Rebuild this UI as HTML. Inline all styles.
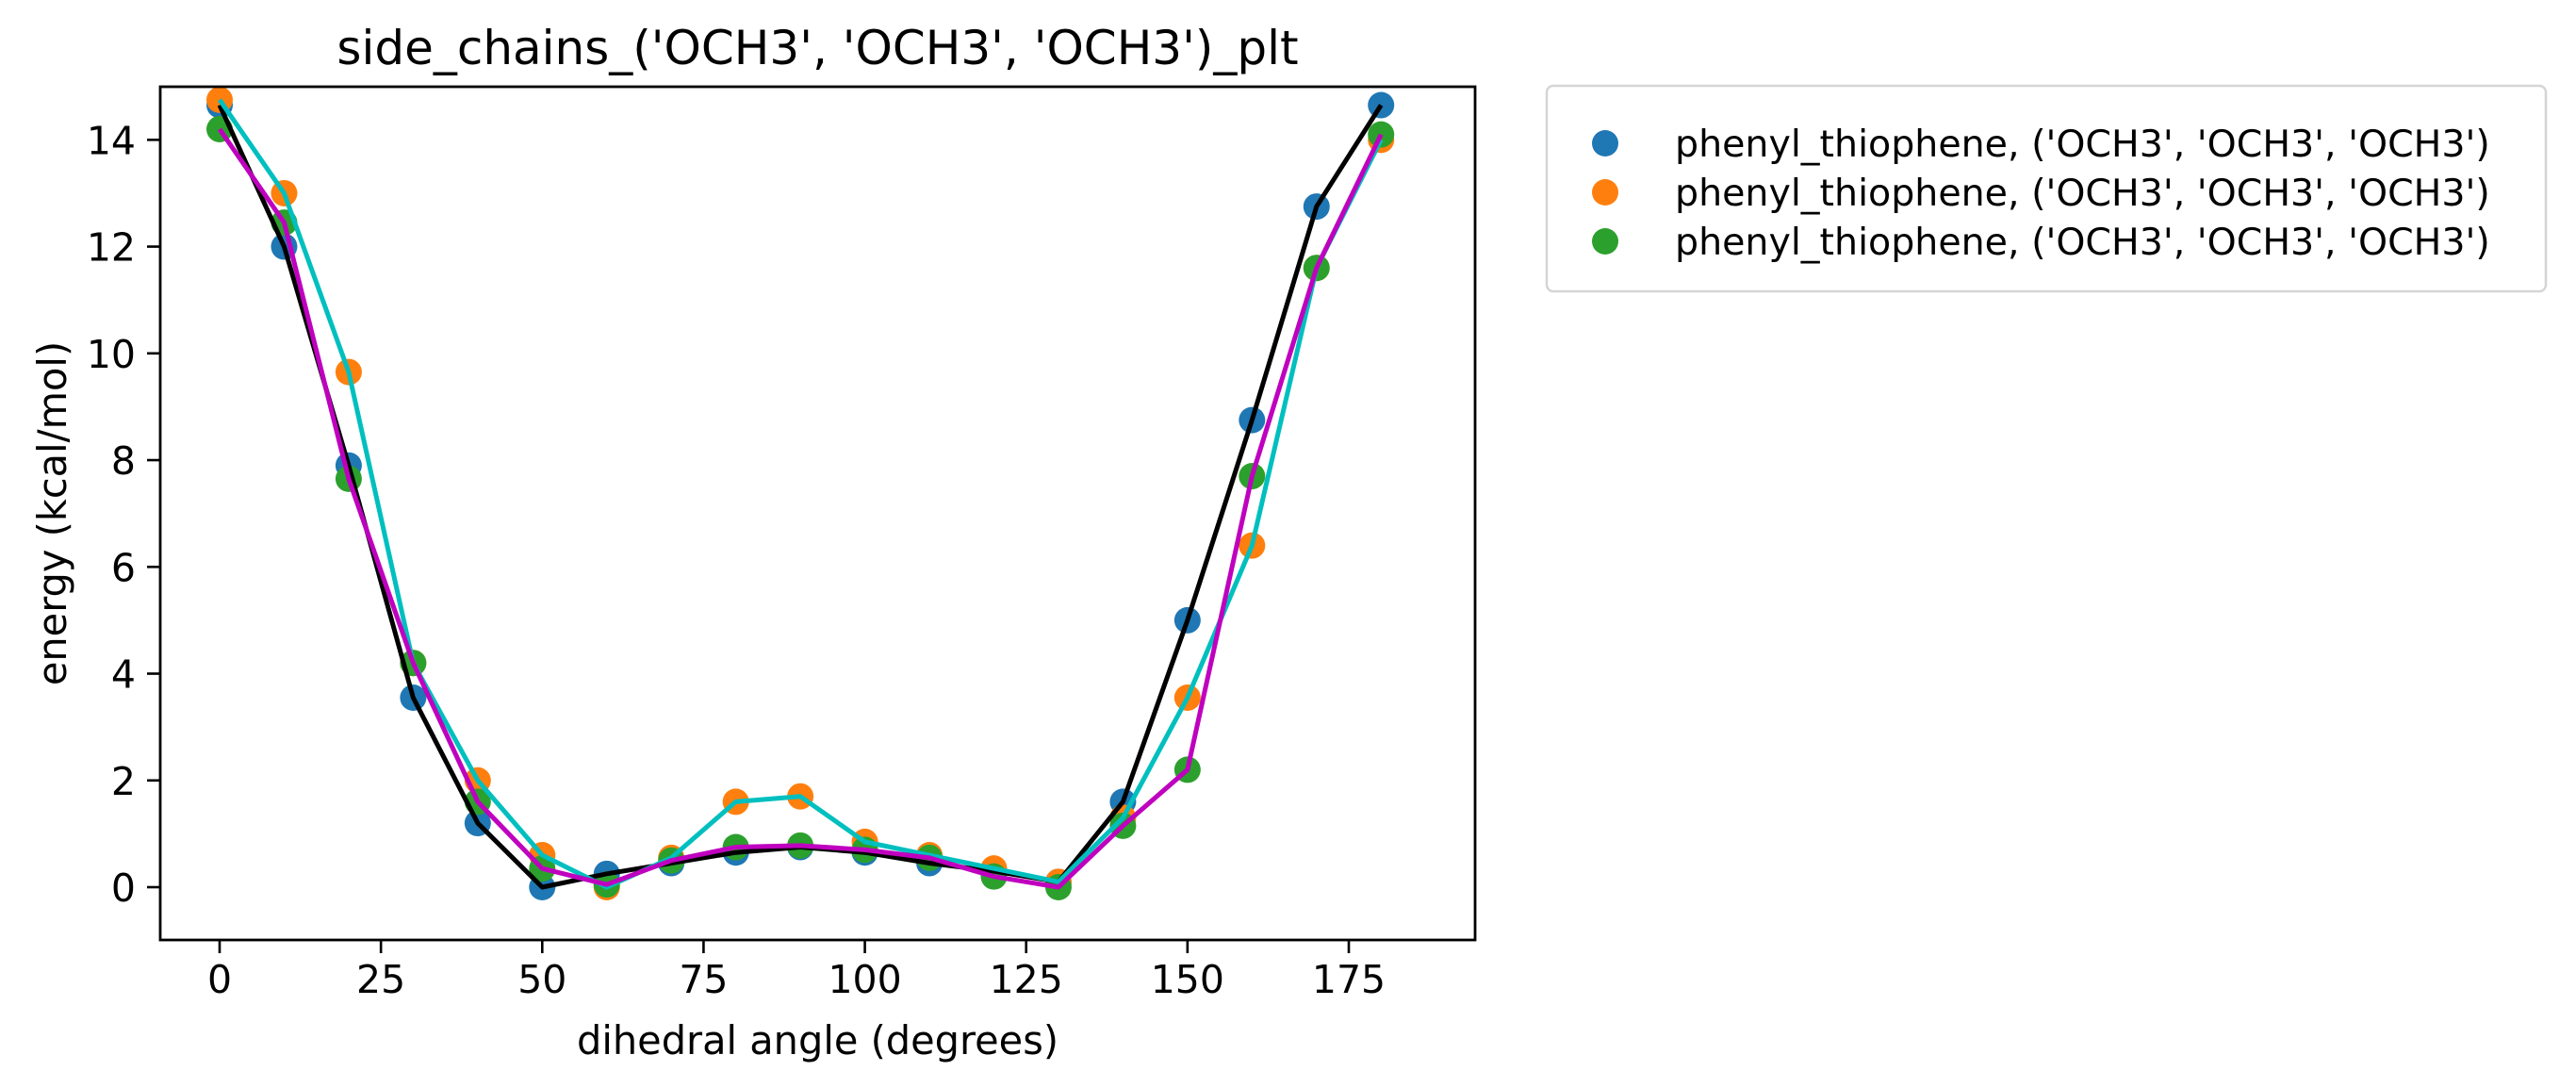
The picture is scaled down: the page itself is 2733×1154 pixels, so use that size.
<!DOCTYPE html>
<html><head><meta charset="utf-8"><style>
body{margin:0;background:#fff}
svg{display:block;font-family:"DejaVu Sans","Liberation Sans",sans-serif}
</style></head><body>
<svg id="chart" width="2733" height="1154" viewBox="0 0 2733 1154" xmlns="http://www.w3.org/2000/svg">
<rect width="2733" height="1154" fill="#fff"/>
<g id="plot"></g>
</svg>
<script>
const angles=[0,10,20,30,40,50,60,70,80,90,100,110,120,130,140,150,160,170,180];
const blueVals=[14.65,12.0,7.9,3.55,1.2,0.0,0.25,0.45,0.65,0.75,0.65,0.45,0.3,0.1,1.6,5.0,8.75,12.75,14.65];
const orangeVals=[14.75,13.0,9.65,4.2,2.0,0.6,0.0,0.55,1.6,1.7,0.85,0.6,0.35,0.1,1.3,3.55,6.4,11.6,14.0];
const greenVals=[14.2,12.45,7.65,4.2,1.6,0.35,0.05,0.5,0.75,0.78,0.7,0.55,0.2,0.0,1.15,2.2,7.7,11.6,14.1];
const xTicks=[0,25,50,75,100,125,150,175];
const yTicks=[0,2,4,6,8,10,12,14];
const legendLabels=["phenyl_thiophene, ('OCH3', 'OCH3', 'OCH3')","phenyl_thiophene, ('OCH3', 'OCH3', 'OCH3')","phenyl_thiophene, ('OCH3', 'OCH3', 'OCH3')"];

const L=170,R=1565,T=92,B=997;
const X0=233,XS=(1431-233)/175;
const Y0=941,YS=56.62;
const sx=v=>X0+v*XS, sy=v=>Y0-v*YS;
const NS="http://www.w3.org/2000/svg";
const g=document.getElementById('plot');
function mk(tag,at,parent){const e=document.createElementNS(NS,tag);for(const k in at)e.setAttribute(k,at[k]);(parent||g).appendChild(e);return e;}
function txt(s,at){const e=mk('text',at);e.textContent=s;return e;}

let t=txt("side_chains_('OCH3', 'OCH3', 'OCH3')_plt",{x:(L+R)/2,y:68,'font-size':50,'text-anchor':'middle',fill:'#000'});



const series=[[blueVals,'#1f77b4','blue'],[orangeVals,'#ff7f0e','orange'],[greenVals,'#2ca02c','green']];
series.forEach(([vals,col,nm])=>{
  vals.forEach((v,i)=>{
    const c=mk('circle',{cx:sx(angles[i]),cy:sy(v),r:14,fill:col});
    
    
  });
});
const lines=[[blueVals,'#000000','black'],[orangeVals,'#00bfbf','cyan'],[greenVals,'#bf00bf','magenta']];
lines.forEach(([vals,col,nm])=>{
  const p=mk('polyline',{points:vals.map((v,i)=>sx(angles[i])+','+sy(v)).join(' '),fill:'none',stroke:col,'stroke-width':5,'stroke-linejoin':'round'});
  
  
});

const fr=mk('rect',{x:L,y:T,width:R-L,height:B-T,fill:'none',stroke:'#000','stroke-width':2.8});



xTicks.forEach(v=>{
  const l=mk('line',{x1:sx(v),x2:sx(v),y1:B,y2:B+14,stroke:'#000','stroke-width':2.6});
  
  
  const tt=txt(String(v),{x:sx(v),y:1053,'font-size':41,'text-anchor':'middle'});
  
  
});
yTicks.forEach(v=>{
  const l=mk('line',{x1:L-14,x2:L,y1:sy(v),y2:sy(v),stroke:'#000','stroke-width':2.6});
  
  
  const tt=txt(String(v),{x:144,y:sy(v)+15,'font-size':41,'text-anchor':'end'});
  
  
});
let xl=txt('dihedral angle (degrees)',{x:(L+R)/2,y:1118,'font-size':41.5,'text-anchor':'middle'});


let yl=txt('energy (kcal/mol)',{x:0,y:0,'font-size':41.5,'text-anchor':'middle',transform:`translate(70,${(T+B)/2}) rotate(-90)`});



const lg=mk('rect',{x:1641,y:91,width:1060,height:218,rx:7,fill:'#fff',stroke:'#d5d5d5','stroke-width':2.5});


legendLabels.forEach((s,i)=>{
  const y=152+i*52;
  const c=mk('circle',{cx:1703,cy:y,r:14,fill:series[i][1]});
  
  
  const tt=txt(s,{x:1777,y:y+14,'font-size':39.5});
  
  
});
</script>
</body></html>
